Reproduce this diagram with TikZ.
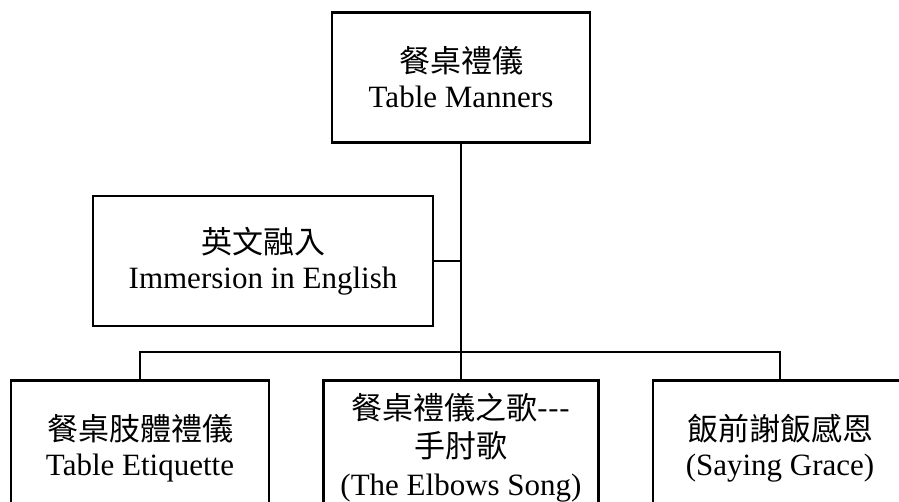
\documentclass[tikz,border=0pt]{standalone}
\usepackage{fontspec}
\setmainfont{Liberation Serif}
\newfontfamily\cjk{Noto Sans CJK TC}
\usetikzlibrary{positioning}

\begin{document}
\begin{tikzpicture}[x=1pt, y=1pt, line width=2.6pt, every node/.style={inner sep=1pt},
    topic/.style={draw, align=center, font=\fontsize{31}{35}\selectfont, minimum height=130}]
      \useasboundingbox (0,0) rectangle (899,-502);

      \node[topic, minimum width=258] at (461,-77.5) (manners) {{\cjk 餐桌禮儀}\\Table Manners};
      \node[topic, minimum width=340] at (263,-261) (immersion) {{\cjk 英文融入}\\Immersion in English};

      \coordinate (split) at (461,-352);

      \node[topic, anchor=north, minimum width=258, minimum height=136] at (140,-379) (etiquette)
        {{\cjk 餐桌肢體禮儀}\\Table Etiquette};
      \node[topic, anchor=north, minimum width=275, minimum height=134, font=\fontsize{31}{38}\selectfont] at (461,-379) (song)
        {{\cjk 餐桌禮儀之歌-\kern0pt-\kern0pt-}\\{\cjk 手肘歌}\\(The Elbows Song)};
      \node[topic, anchor=north, minimum width=254, minimum height=136] at (780,-379) (grace)
        {{\cjk 飯前謝飯感恩}\\(Saying Grace)};

      % trunk and branches
      \draw (manners.south) -- (song.north);
      \draw (immersion.east) -- (immersion.east -| manners.south);
      \draw (etiquette.north) |- (split) -| (grace.north);
    \end{tikzpicture}
\end{document}
